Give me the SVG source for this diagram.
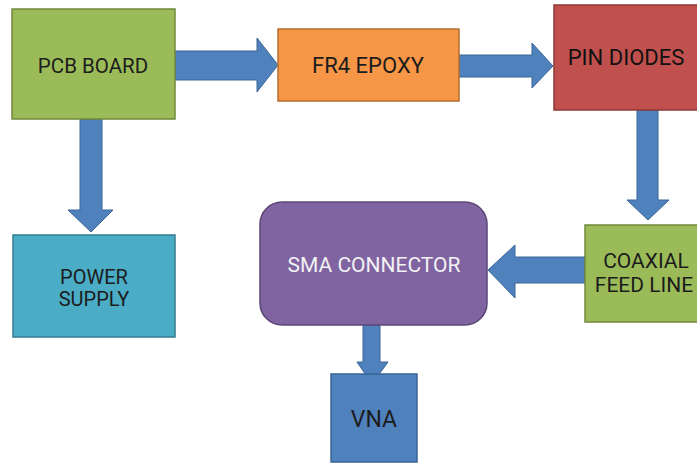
<svg xmlns="http://www.w3.org/2000/svg" width="697" height="464" viewBox="0 0 697 464">
<style>
.t{font-family:Roboto,"Liberation Sans",sans-serif;font-size:20px;fill:#1c1c1c;text-anchor:middle}
.arr{fill:#4f81bd;stroke:#3a6596;stroke-width:1}
.box{stroke-width:1.5}
</style>
<rect width="697" height="464" fill="#ffffff"/>
<g id="connectors">
<path class="arr" d="M175,51 H257 V38 L278,65 L257,92 V80 H175 Z"/>
<path class="arr" d="M459,55 H532 V43 L553,66 L532,88 V77 H459 Z"/>
<path class="arr" d="M80,119 V210 H68 L91,232 L113,210 H102 V119 Z"/>
<path class="arr" d="M637,110 V200 H627 L648,220 L669,200 H658 V110 Z"/>
<path class="arr" d="M585,257 H515 V245 L488,270 L515,298 V283 H585 Z"/>
<path class="arr" d="M363,325 V362 H357 L372,384 L388,362 H380 V325 Z"/>
</g>
<g id="pcb">
<rect class="box" x="12" y="9" width="163" height="110" fill="#9bbb59" stroke="#72893f"/>
<text class="t" x="93" y="73" style="font-size:20.5px">PCB BOARD</text>
</g>
<g id="fr4">
<rect class="box" x="278" y="29" width="181" height="72" fill="#f79646" stroke="#b66d31"/>
<text class="t" x="368" y="73" style="font-size:22px">FR4 EPOXY</text>
</g>
<g id="pin">
<rect class="box" x="554" y="5" width="150" height="105" fill="#c0504d" stroke="#8c3836"/>
<text class="t" x="626" y="65" style="font-size:22px;fill:#111">PIN DIODES</text>
</g>
<g id="power">
<rect class="box" x="13" y="235" width="162" height="102" fill="#4bacc6" stroke="#357d91"/>
<text class="t" x="94" y="284">POWER</text>
<text class="t" x="94" y="306">SUPPLY</text>
</g>
<g id="coax">
<rect class="box" x="585" y="225" width="120" height="97" fill="#9bbb59" stroke="#72893f"/>
<text class="t" x="646" y="268" style="font-size:21px">COAXIAL</text>
<text class="t" x="644" y="292" style="font-size:21px">FEED LINE</text>
</g>
<g id="sma">
<rect class="box" x="260" y="202" width="227" height="123" rx="22" fill="#8064a2" stroke="#5c4776"/>
<text class="t" x="374" y="272" style="font-size:21px;fill:#f2f2f2">SMA CONNECTOR</text>
</g>
<g id="vna">
<rect class="box" x="331" y="374" width="86" height="88" fill="#4f81bd" stroke="#3a6596"/>
<text class="t" x="374" y="427" style="font-size:23px">VNA</text>
</g>
</svg>
